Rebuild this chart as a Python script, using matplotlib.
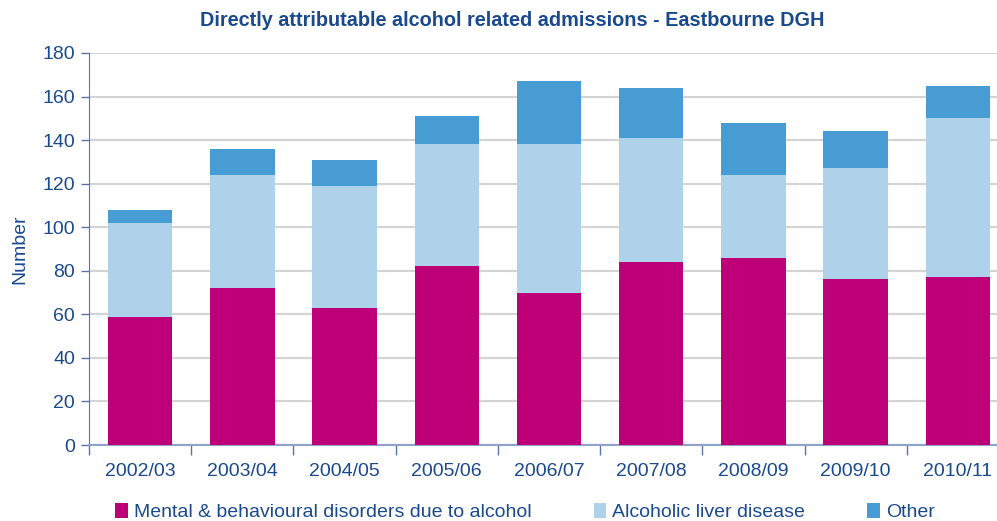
import numpy as np
import matplotlib.pyplot as plt
from matplotlib.patches import Patch

# Data
years = ["2002/03", "2003/04", "2004/05", "2005/06", "2006/07",
         "2007/08", "2008/09", "2009/10", "2010/11"]
mental = [59, 72, 63, 82, 70, 84, 86, 76, 77]
liver = [43, 52, 56, 56, 68, 57, 38, 51, 73]
other = [6, 12, 12, 13, 29, 23, 24, 17, 15]

series_names = ["Mental & behavioural disorders due to alcohol",
                "Alcoholic liver disease", "Other"]
colors = ["#BE0078", "#AED2EA", "#479DD3"]
text_col = "#1A4A8E"

plt.rcParams['font.family'] = ['Liberation Sans', 'DejaVu Sans']

fig = plt.figure(figsize=(9.97, 5.21), dpi=100)
ax = fig.add_axes([89 / 997, 76 / 521, 920 / 997, 392 / 521])

x = np.arange(len(years))
w = 0.63
bottom = np.zeros(len(years))
for vals, c in zip([mental, liver, other], colors):
    ax.bar(x, vals, w, bottom=bottom, color=c, zorder=3)
    bottom += np.array(vals)

ax.set_xlim(-0.5, len(years) - 0.5)
ax.set_ylim(0, 180)
ax.set_yticks(np.arange(0, 181, 20))
ax.yaxis.grid(True, color="#D4D4D4", linewidth=1.6, zorder=0)
ax.set_axisbelow(True)

# category labels in the middle, tick marks on the boundaries
ax.set_xticks(x)
ax.set_xticklabels(years)
ax.set_xticks(np.arange(-0.5, len(years)), minor=True)
ax.tick_params(axis='x', which='major', length=0, pad=13, labelsize=14, labelcolor=text_col)
ax.tick_params(axis='x', which='minor', length=7, color="#5A74A8", width=1)
ax.tick_params(axis='y', length=6, color="#5A74A8", width=1, labelsize=14,
               labelcolor=text_col, pad=4)

for s in ["top", "right"]:
    ax.spines[s].set_visible(False)
ax.spines["left"].set_color("#5A74A8")
ax.spines["bottom"].set_color("#8FA3C8")
ax.spines["bottom"].set_linewidth(1.5)

ax.set_ylabel("Number", fontsize=14, color=text_col, labelpad=10)
fig.text(512 / 997, 1 - 20 / 521,
         "Directly attributable alcohol related admissions - Eastbourne DGH",
         ha='center', va='center', fontsize=14.3, fontweight='bold', color=text_col)

handles = [Patch(facecolor=c, edgecolor='none') for c in colors]
fig.legend(handles, series_names, loc='center', bbox_to_anchor=(525 / 997, 1 - 512 / 521),
           ncol=3, frameon=False, fontsize=14, labelcolor=text_col,
           handlelength=0.65, handleheight=0.85, handletextpad=0.3, columnspacing=3.2,
           borderaxespad=0)

fig.savefig("out.png", dpi=100)
